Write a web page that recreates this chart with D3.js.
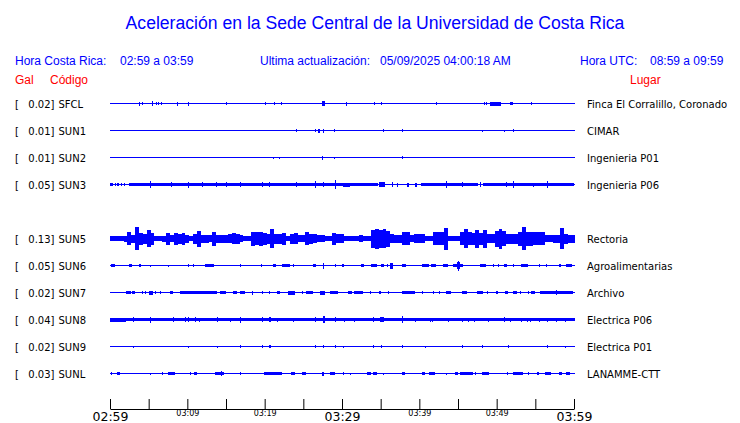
<!DOCTYPE html>
<html>
<head>
<meta charset="utf-8">
<script src="https://cdn.jsdelivr.net/npm/d3@7"></script>
<style>
  body { margin: 0; background: #fff; }
</style>
</head>
<body>
<svg id="chart" width="740" height="423"></svg>
<script>
// stations, top to bottom (slot 4 is left empty in the original)
var codes = ["SFCL", "SUN1", "SUN2", "SUN3", "SUN5", "SUN6", "SUN7", "SUN8", "SUN9", "SUNL"];
var gal = [0.02, 0.01, 0.01, 0.05, 0.13, 0.05, 0.02, 0.04, 0.02, 0.03];
var places = ["Finca El Corralillo, Coronado", "CIMAR", "Ingenieria P01", "Ingenieria P06",
              "Rectoria", "Agroalimentarias", "Archivo", "Electrica P06", "Electrica P01", "LANAMME-CTT"];
var slots = [0, 1, 2, 3, 5, 6, 7, 8, 9, 10];
// background noise level of each trace (relative amplitude, 0-100)
var baseAmp = [4, 4, 4, 4, 18, 4, 4, 11, 4, 4];

// minutes after 02:59
var tickMinutes = [0, 5, 10, 15, 20, 25, 30, 35, 40, 45, 50, 55, 60];
var tickLabels = ["02:59", "", "03:09", "", "03:19", "", "03:29", "", "03:39", "", "03:49", "", "03:59"];
var bigLabels = ["02:59", "03:29", "03:59"];

// bursts: [start minute, end minute, half amplitude]
var sfclBursts = [[3.8,3.8,16],[4.2,4.2,10],[5.4,5.6,18],[6.0,6.0,12],[6.25,6.25,12],[6.6,6.6,14],
  [8.7,8.8,16],[10.1,10.1,16],[15.0,15.0,10],[20.1,20.1,10],[21.2,21.2,12],[22.15,22.15,10],
  [27.4,27.8,18],[30.5,30.5,16],[34.2,34.3,14],[35.1,35.1,14],[42.2,42.2,10],[48.4,48.4,12],
  [48.6,48.6,12],[49.1,50.5,16],[51.7,52.1,14],[54.5,54.5,12]];
var sun1Bursts = [[24.0,24.0,10],[26.5,26.5,14],[26.9,27.2,16],[27.5,27.5,16],[29.0,29.0,14],
  [35.35,35.35,12],[37.7,37.7,12],[48.05,48.05,8],[51.0,51.0,8],[52.15,52.15,10]];
var sun2Bursts = [[21.1,21.1,8],[21.9,21.9,8],[27.45,27.45,16],[29.0,29.0,8],[37.7,37.7,10]];
var sun3Bursts = [[0,0.35,14],[0.6,0.6,12],[0.9,1.1,12],[1.4,1.4,10],[1.8,1.8,10],[2.5,34.7,12],
  [40.2,47.6,12],[48.2,60,12],[5.2,5.2,26],[7.9,7.9,22],[10.1,10.1,24],[11.9,11.9,22],
  [13.75,13.75,22],[15.0,15.0,20],[16.8,16.9,22],[19.7,19.7,20],[20.5,20.7,22],[24.0,24.0,18],
  [26.5,26.5,28],[27.5,27.5,22],[29.05,29.1,36],[30.1,31.0,16],[34.8,35.6,20],[36.5,36.5,18],
  [37.1,37.3,16],[38.4,38.7,16],[39.4,39.7,16],[43.5,43.5,28],[45.5,45.7,20],[47.85,47.85,20],
  [51.2,51.2,18],[52.1,52.1,28],[54.7,54.7,16],[56.5,56.5,28]];
var sun6Bursts = [[0.13,0.65,12],[2.5,2.9,12],[3.7,4.0,14],[5.2,5.2,8],[7.55,7.55,8],[10.1,10.1,10],
  [10.7,10.7,10],[12.3,13.45,12],[16.8,16.8,14],[19.5,19.5,10],[21.1,21.5,10],[22.2,23.3,14],
  [23.7,23.7,10],[26.2,26.6,14],[27.5,27.5,24],[29.1,29.1,10],[30.0,30.3,12],[32.5,32.8,12],
  [33.8,34.5,10],[35.1,35.4,12],[35.8,36.0,12],[36.2,36.6,24],[37.7,38.3,12],[40.3,41.2,12],
  [41.5,42.2,12],[43.1,43.75,12],[44.4,45.7,14],[44.9,45.2,28],[45.05,45.05,40],[47.85,48.6,12],
  [49.5,49.5,10],[50.2,50.2,10],[50.9,51.4,10],[52.15,52.15,10],[53.2,54.1,14],[55.5,55.5,10],
  [56.4,56.4,10],[58.1,58.3,12],[59.0,59.8,12]];
var sun7Bursts = [[2.1,2.7,10],[2.9,3.2,12],[4.1,4.3,10],[4.5,4.5,10],[5.1,5.5,16],[5.8,5.8,10],
  [6.5,6.5,10],[7.75,8.1,12],[9.0,13.8,12],[14.2,15.0,12],[15.95,16.4,12],[16.8,17.5,12],
  [18.3,18.5,16],[19.6,19.6,10],[20.6,20.6,10],[21.55,22.0,12],[23.05,23.9,16],[24.8,24.8,10],
  [25.35,26.3,12],[27.15,27.8,16],[28.4,29.5,12],[30.8,31.25,12],[31.5,32.75,12],[33.6,33.6,10],
  [34.8,35.0,12],[36.0,36.0,10],[37.7,39.45,12],[40.3,40.5,12],[41.8,41.8,10],[42.5,42.5,10],
  [43.5,44.05,12],[45.5,46.2,12],[47.4,48.2,12],[48.8,48.8,10],[49.9,50.2,12],[51.1,51.5,12],
  [52.1,52.6,12],[53.0,53.0,10],[54.0,54.0,10],[54.5,55.0,12],[55.6,59.9,12],[57.7,57.7,20]];
var sun8Bursts = [[0,2.1,16],[3.0,3.0,18],[5.2,5.2,24],[8.1,8.1,18],[9.7,9.7,18],[10.1,10.1,18],
  [11.0,11.0,18],[11.55,11.55,16],[13.8,13.8,18],[15.5,15.5,16],[16.8,16.9,24],[19.6,19.6,20],
  [20.5,20.8,20],[21.55,21.55,16],[23.7,23.7,16],[26.5,26.5,20],[27.5,27.8,28],[29.1,29.1,18],
  [30.2,30.2,16],[31.5,31.5,16],[34.0,34.0,18],[34.9,35.4,20],[37.7,37.7,26],[39.45,39.45,16],
  [41.4,41.4,16],[41.6,41.6,16],[43.75,43.75,16],[45.5,45.5,16],[46.35,46.35,16],[47.1,47.1,16],
  [48.9,48.9,16],[50.9,50.9,20],[51.7,51.7,16],[53.2,53.2,16],[53.9,53.9,16],[54.3,54.3,16],
  [55.5,55.5,16],[56.5,56.5,16],[57.7,57.7,16],[58.85,58.85,16]];
var sun9Bursts = [[3.0,3.0,8],[10.1,10.1,8],[13.8,13.8,8],[16.8,16.8,12],[19.6,19.6,10],[20.6,20.8,10],
  [26.5,26.5,10],[27.5,27.5,12],[29.1,29.1,12],[30.1,30.1,8],[34.0,34.0,10],[35.0,35.0,12],
  [37.7,37.7,10],[40.7,40.7,8],[45.5,45.5,10],[48.05,48.05,10],[51.5,51.5,10],[56.5,56.5,10],
  [58.85,58.85,8]];
var sunlBursts = [[0.13,0.13,10],[0.85,1.3,12],[5.2,5.2,8],[6.7,6.7,10],[7.55,8.4,12],[10.4,10.4,10],
  [10.8,11.3,10],[13.6,14.7,14],[14.3,14.3,22],[16.8,16.8,12],[19.9,22.3,12],[23.4,23.9,10],
  [24.8,25.4,10],[27.4,27.7,16],[28.45,29.1,10],[30.1,30.1,10],[31.0,31.0,8],[33.2,33.7,10],
  [34.05,34.5,10],[35.35,35.35,8],[37.7,38.15,12],[40.3,40.7,12],[41.2,42.0,12],[43.5,43.5,8],
  [44.6,45.05,10],[45.25,46.9,14],[47.2,47.2,10],[48.05,49.05,12],[51.4,51.4,10],[52.15,53.45,14],
  [54.1,54.1,10],[55.2,55.5,10],[56.25,57.0,12],[58.1,58.4,12],[59.0,59.5,12]];

// SUN5 (Rectoria): envelope read every half minute
var sun5Step = 0.5;
var sun5Env = [18,18,18,22,24,54,32,92,48,40,
  66,48,22,22,24,48,26,48,40,48,
  32,22,40,64,32,32,28,56,32,32,
  32,36,44,40,26,22,22,56,52,56,
  48,40,76,40,40,48,22,40,44,26,
  28,52,40,36,26,26,22,22,48,36,
  36,18,16,16,16,26,12,12,72,80,
  72,76,64,36,32,32,52,52,26,36,
  36,36,22,22,52,52,52,88,22,22,
  22,52,74,52,48,72,48,72,36,36,
  64,80,60,40,40,40,56,92,56,56,
  52,52,52,26,26,32,32,84,40,32,
  32];

var bursts = [sfclBursts, sun1Bursts, sun2Bursts, sun3Bursts, [], sun6Bursts, sun7Bursts, sun8Bursts, sun9Bursts, sunlBursts];

var blue = "#0000ff";
var svg = d3.select("#chart");

var x = d3.scaleLinear().domain([0, 60]).range([110, 574]);
var rowY = d3.scaleLinear().domain([0, 10]).range([103.5, 373.5]);
var amp = d3.scaleLinear().domain([0, 100]).range([0, 12.5]);

// title and header
svg.append("text")
    .attr("x", 375).attr("y", 29)
    .attr("text-anchor", "middle")
    .attr("fill", blue)
    .style("font-family", "'Liberation Sans', Arial, sans-serif")
    .style("font-size", "17.6px")
    .text("Aceleración en la Sede Central de la Universidad de Costa Rica");

var header = [
  [15, 65, "Hora Costa Rica:", blue],
  [120, 65, "02:59 a 03:59", blue],
  [260, 65, "Ultima actualización:", blue],
  [380, 65, "05/09/2025 04:00:18 AM", blue],
  [580, 65, "Hora UTC:", blue],
  [650, 65, "08:59 a 09:59", blue],
  [15, 84, "Gal", "#ff0000"],
  [50, 84, "Código", "#ff0000"],
  [630, 84, "Lugar", "#ff0000"]
];
svg.selectAll("text.header")
    .data(header)
    .enter().append("text")
    .attr("class", "header")
    .attr("x", function (d) { return d[0]; })
    .attr("y", function (d) { return d[1]; })
    .attr("fill", function (d) { return d[3]; })
    .style("font-family", "'Liberation Sans', Arial, sans-serif")
    .style("font-size", "12px")
    .text(function (d) { return d[2]; });

// station rows
var rows = svg.selectAll("g.row")
    .data(codes)
    .enter().append("g")
    .attr("class", "row");

rows.each(function (code, i) {
    var g = d3.select(this);
    var y = rowY(slots[i]);
    var lab = g.append("g")
        .style("font-family", "'DejaVu Sans', sans-serif")
        .style("font-size", "10px")
        .attr("fill", "#000");
    lab.append("text").attr("x", 15).attr("y", y + 4).text("[");
    lab.append("text").attr("x", 54.5).attr("y", y + 4).attr("text-anchor", "end").text(gal[i].toFixed(2) + "]");
    lab.append("text").attr("x", 58.5).attr("y", y + 4).text(code);
    lab.append("text").attr("x", 587).attr("y", y + 4).text(places[i]);

    var tr = g.append("g").attr("fill", blue).attr("shape-rendering", "crispEdges");
    var b = Math.max(0.5, amp(baseAmp[i]));
    tr.append("rect")
        .attr("x", x(0)).attr("width", x(60) - x(0) + 1)
        .attr("y", y - b).attr("height", 2 * b);

    if (code === "SUN5") {
        tr.selectAll("rect.env")
            .data(sun5Env)
            .enter().append("rect")
            .attr("class", "env")
            .attr("x", function (d, k) { return x(Math.max(0, k * sun5Step - sun5Step / 2)); })
            .attr("width", function (d, k) {
                var m = k * sun5Step;
                return x(Math.min(60, m + sun5Step / 2)) - x(Math.max(0, m - sun5Step / 2)) + (m >= 60 ? 1 : 0);
            })
            .attr("y", function (d) { return y - amp(d); })
            .attr("height", function (d) { return 2 * amp(d); });
    }

    tr.selectAll("rect.burst")
        .data(bursts[i])
        .enter().append("rect")
        .attr("class", "burst")
        .attr("x", function (d) { return x(d[0]); })
        .attr("width", function (d) { return Math.max(1, x(d[1]) - x(d[0])); })
        .attr("y", function (d) { return y - amp(d[2]); })
        .attr("height", function (d) { return 2 * amp(d[2]); });
});

// time axis, ticks pointing up
var axis = d3.axisBottom(x)
    .tickValues(tickMinutes)
    .tickSizeInner(-10)
    .tickSizeOuter(0)
    .tickFormat(function (d, i) { return tickLabels[i]; });

var ax = svg.append("g")
    .attr("transform", "translate(0,409)")
    .call(axis);
ax.select(".domain").attr("stroke", "#000");
ax.selectAll(".tick line").attr("stroke", "#000");
ax.selectAll(".tick text")
    .attr("fill", "#000")
    .attr("dy", null)
    .attr("y", function (d, i) { return bigLabels.indexOf(tickLabels[i]) >= 0 ? 12 : 7; })
    .style("font-family", "'DejaVu Sans', sans-serif")
    .style("font-size", function (d, i) { return bigLabels.indexOf(tickLabels[i]) >= 0 ? "12.5px" : "8px"; });
</script>
</body>
</html>
